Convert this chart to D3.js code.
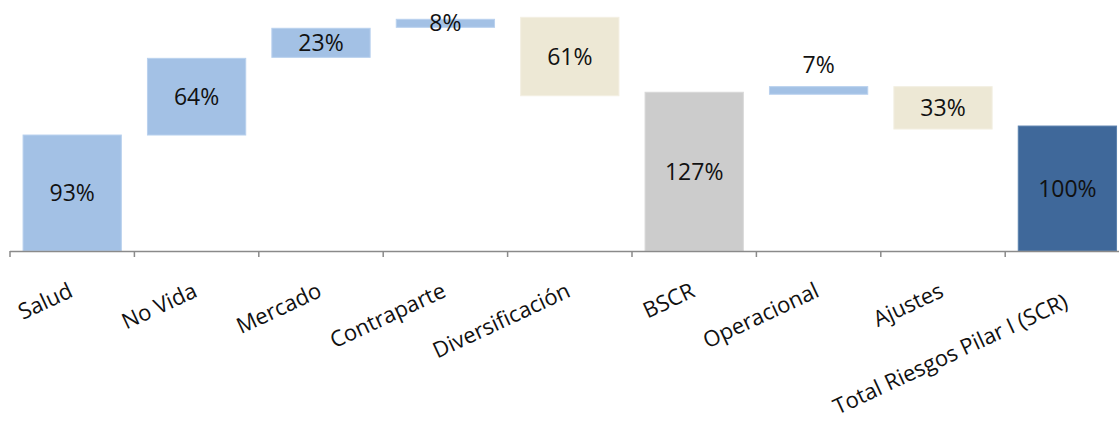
<!DOCTYPE html>
<html>
<head>
<meta charset="utf-8">
<script src="https://cdn.jsdelivr.net/npm/d3@7"></script>
<style>
  body { margin: 0; background: #fff; }
  svg { display: block; }
</style>
</head>
<body>
<div id="chart"></div>
<script>
// categorias y valores (en %)
const categories = ["Salud", "No Vida", "Mercado", "Contraparte", "Diversificación",
  "BSCR", "Operacional", "Ajustes", "Total Riesgos Pilar I (SCR)"];
const shown = [93, 64, 23, 8, 61, 127, 7, 33, 100];
const barLow = [0, 93, 155.3, 179.4, 124.5, 0, 125.7, 97.8, 0];
const barHigh = [93, 154.5, 178.6, 185.8, 187.4, 127.3, 131.8, 131.8, 100.2];
const kinds = ["riesgo", "riesgo", "riesgo", "riesgo", "ajuste", "subtotal", "riesgo", "ajuste", "total"];

const W = 1119, H = 423;
const colors = {riesgo: "#a3c1e5", ajuste: "#ede8d5", subtotal: "#cccccc", total: "#3f689a"};
const edges = {riesgo: "#b9d1ee", ajuste: "#f3efe2", subtotal: "#d8d8d8", total: "#5a80ad"};

const data = categories.map(function (c, i) {
  return {cat: c, pct: shown[i], lo: barLow[i], hi: barHigh[i], kind: kinds[i]};
});

const svg = d3.select("#chart").append("svg")
  .attr("width", W)
  .attr("height", H);

const x = d3.scaleBand()
  .domain(categories)
  .range([10, 1129.6])
  .paddingInner(0.21)
  .paddingOuter(0.105);

const y = d3.scaleLinear()
  .domain([0, 200])
  .range([251, 1.6]);

const step = x.step();
const mid = function (d) { return x(d) + x.bandwidth() / 2; };

// barras
svg.append("g").selectAll("rect")
  .data(data).enter()
  .append("rect")
    .attr("x", function (d) { return x(d.cat); })
    .attr("y", function (d) { return y(d.hi); })
    .attr("width", x.bandwidth())
    .attr("height", function (d) { return y(d.lo) - y(d.hi); })
    .attr("fill", function (d) { return colors[d.kind]; })
    .attr("stroke", function (d) { return edges[d.kind]; })
    .attr("stroke-width", 1);

// eje
const axis = svg.append("g").attr("stroke", "#8a8a8a");
axis.append("line")
  .attr("x1", x.range()[0]).attr("x2", W)
  .attr("y1", y(0) + 0.5).attr("y2", y(0) + 0.5)
  .attr("stroke-width", 1.5);
axis.selectAll(".tick")
  .data(categories).enter()
  .append("line")
    .attr("class", "tick")
    .attr("x1", function (d) { return mid(d) - step / 2; })
    .attr("x2", function (d) { return mid(d) - step / 2; })
    .attr("y1", y(0)).attr("y2", y(0) + 6)
    .attr("stroke-width", 1.5);

// etiquetas de datos
const above = {"Operacional": 25};
svg.append("g").selectAll("text")
  .data(data).enter()
  .append("text")
    .attr("x", function (d) { return mid(d.cat); })
    .attr("y", function (d) { return (y(d.lo) + y(d.hi)) / 2 - (above[d.cat] || 0); })
    .attr("dy", "0.35em")
    .attr("text-anchor", "middle")
    .style("font", "23px 'Open Sans', sans-serif")
    .attr("fill", "#111")
    .text(function (d) { return d.pct + "%"; });

// etiquetas del eje, giradas
const nudge = {"Total Riesgos Pilar I (SCR)": 11};
svg.append("g").selectAll("text")
  .data(categories).enter()
  .append("text")
    .attr("transform", function (d) {
      return "translate(" + (mid(d) + 2) + "," + (296 + (nudge[d] || 0)) + ") rotate(-25)";
    })
    .attr("text-anchor", "end")
    .style("font", "22px 'Open Sans', sans-serif")
    .attr("fill", "#111")
    .text(function (d) { return d; });
</script>
</body>
</html>
